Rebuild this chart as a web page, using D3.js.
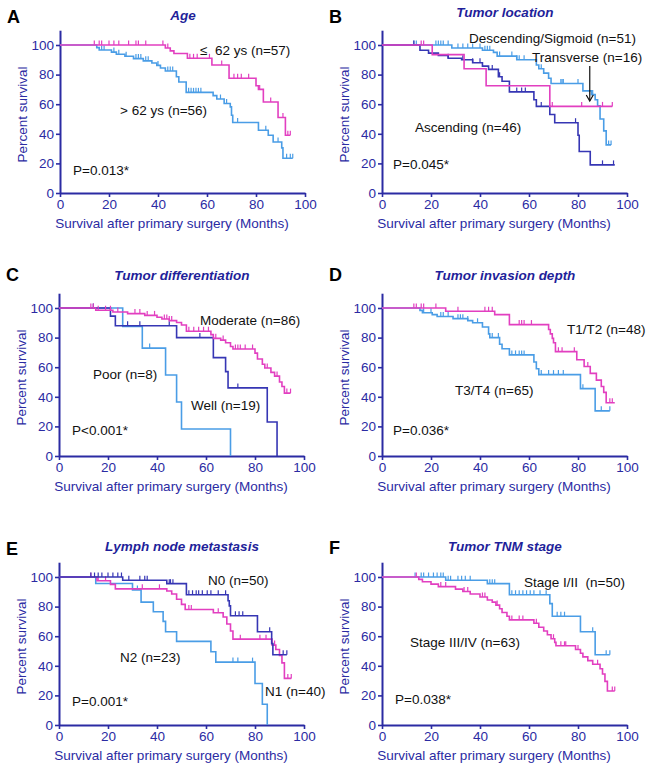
<!DOCTYPE html>
<html><head><meta charset="utf-8">
<script src="https://cdn.jsdelivr.net/npm/d3@7"></script>
<style>body{margin:0;background:#fff}svg{display:block}text{font-family:"Liberation Sans",Arial,sans-serif}</style>
</head><body><svg id="c" width="650" height="772"></svg>
<script>
// ---------- shared ticks ----------
const xTicks = [0, 20, 40, 60, 80, 100];
const yTicks = [0, 20, 40, 60, 80, 100];
const xLabel = "Survival after primary surgery (Months)";
const yLabel = "Percent survival";

// ---------- Panel A: Age ----------
const ageLeSteps = [[0,100],[43,98],[45,96],[46.5,94.3],[52,91],[62,86.5],[69,77.5],[80,72.5],[81,70],[83,61.5],[89,51],[92,39]];
const ageLeEnd = 94;
const ageLeCensor = [14,16,17,20,22,24,28,31,32,35,42,44,53,54.5,56,61,66,71,72.5,74,77,81.5,86,91,93,94];
const ageGtSteps = [[0,100],[15,98.2],[16,96.6],[21,95.2],[23,93.8],[26.5,92.4],[30,90.8],[34,89.3],[37.5,87.8],[39.5,86.2],[41,84.5],[43,82.4],[47.5,78.5],[48.5,75],[51.5,68],[62.5,65.8],[64,63.5],[67,60.5],[69.5,58.2],[70,52.5],[70.5,47.6],[81,42.4],[85,39],[87,34.5],[90.5,30.5],[91,23.5]];
const ageGtEnd = 95;
const ageGtCensor = [17,18,22,24,27,31,32,33,35,36,40,44,45,46,52.5,53.5,54.5,55.5,56.5,57.5,65.5,68,72.5,84,89,92.5,94,95];

// ---------- Panel B: Tumor location ----------
const descSteps = [[0,100],[28.5,98],[41,96.5],[45.5,95],[47,92.5],[55,90],[63,86.5],[64,84],[66,81],[68,77.5],[69,74],[82,69],[85.5,66.5],[87,63],[88,59],[89,50],[90.5,42],[91.5,32.5]];
const descEnd = 93.5;
const descCensor = [13,14,22,23,24,25,27,31,33,35,37,40,42,43,44,48,53,55,56,58,65,73,73.5,74,80,86,92.5,93.5];
const transSteps = [[0,100],[20.5,93.5],[33.5,84],[42.5,72.5],[68.5,58.5]];
const transEnd = 94;
const transCensor = [16,17,69.5,81.5,90,94];
const ascSteps = [[0,100],[15.5,96.5],[19,94.5],[23,93],[27,91],[32.5,90],[37,88],[41,85.7],[43.5,83.5],[47.5,78.5],[49,75.5],[52,68.3],[62,63],[63,58.5],[68.5,53],[70.5,47.5],[80,39],[80.5,28],[85,19]];
const ascEnd = 95;
const ascCensor = [13,27,33,37,40,45,48,55,57,58.5,65,79,90,94.5];

// ---------- Panel C: Tumor differentiation ----------
const modSteps = [[0,100],[15,98.5],[22,97.3],[28,96.2],[35,95],[40,93.8],[42,92.6],[45,91.5],[48,90.2],[50,88.5],[52,84.3],[62,82],[63,79.5],[66,78.3],[68,76.5],[70,74],[71,72.3],[80,69.5],[81,65.5],[83,62],[84,59.5],[86.5,56.5],[88,54],[90,50],[91,47],[92,42.5]];
const modEnd = 94.5;
const modCensor = [13,14,16,19,21,24,31,33,36,39,43,44,45,46,53,55,57,59,61,64,67,72,73,74,76,79,85,89,93,94.5];
const wellSteps = [[0,100],[21,94.5],[23,88],[48,80],[63,66.5],[68,57],[69,46],[85,23],[89,0]];
const wellEnd = 89;
const wellCensor = [14,28,33,45,57.5,73];
const poorSteps = [[0,100],[26,87.5],[34,72.9],[43.5,54.7],[48,36.5],[50,18.2],[70,0]];
const poorEnd = 70;
const poorCensor = [37];

// ---------- Panel D: Tumor invasion depth ----------
const t12Steps = [[0,100],[26,97.8],[46,95.5],[52,88.8],[68,85.5],[68.7,82.5],[69.5,79.5],[70,76.5],[70.8,70.5],[79.5,65],[82.5,60.5],[85,55.8],[87.5,51.3],[89.5,47],[90.5,43],[91.5,36]];
const t12End = 95;
const t12Censor = [13,14,16,17,22,31,42,43.5,45,56,57,58,61,72,73.5,78.5,84,93,94];
const t34Steps = [[0,100],[15.5,98.4],[16.5,96.8],[20.5,95.5],[22.5,94.3],[29,92.8],[35,91.5],[37,90],[41,87.2],[43.5,82.5],[44,80],[48,75.5],[49,72.5],[52,68.3],[62,63.5],[63,59],[64,55],[81,45.5],[87,30.5]];
const t34End = 93;
const t34Censor = [17,20,24,25,27,31,32,33,35,39,45,47.5,53,54.5,56,57,58,65,68,70,72,74,82,89.5,93];

// ---------- Panel E: Lymph node metastasis ----------
const n0Steps = [[0,100],[26,97.8],[44,95.5],[52,88],[69,84],[69.5,80.5],[70,73.8],[81,63],[86.8,55],[87.3,47.5]];
const n0End = 93;
const n0Censor = [13,14.5,16,17.5,20,22,24,25.5,28.5,33,35,36,45,45.5,46.5,53,54.5,56,57,58.5,60.5,62,65,68,72,73.5,75,86,91.5,93];
const n1Steps = [[0,100],[15.5,97.5],[21,95],[23,92],[44,90.5],[46,88.5],[48,85],[50,81.5],[51.5,78],[63,75.8],[67,73],[68.5,68.2],[70,63.5],[71,58],[87,54],[88.5,51],[90,47],[91,42],[92,31.5]];
const n1End = 94.8;
const n1Censor = [13,16,19,34,41,53,54,65,74,82,84.5,88,93.4,94.8];
const n2Steps = [[0,100],[15,95.6],[30,91.3],[33.5,83],[38.5,76.5],[42.5,70],[43.5,63],[48,56.5],[62,49.5],[64,42.5],[80,28],[83,14],[85,0]];
const n2End = 85;
const n2Censor = [32,71,73,79];

// ---------- Panel F: Tumor TNM stage ----------
const s12Steps = [[0,100],[26,97.8],[43,95.5],[52,88],[68.5,82],[69.5,73.5],[81,63],[87,47.5]];
const s12End = 93;
const s12Censor = [13.5,16,17,19,21,22.5,24,25,27,28,31,32.5,34,36,44,45,46,53,54.5,56,57.5,59,60.5,62,64.5,67,71.5,73,74.5,86,91.5,93];
const s34Steps = [[0,100],[15,98.4],[16.5,96.8],[20,95.2],[23,93.5],[30,91.8],[33,90.2],[36,88.5],[40,86.5],[43,84.5],[45,83],[46.5,81],[48,78.5],[49,76],[51,73.5],[52,71],[62,68.7],[64,66],[66,63.5],[67.5,61],[69,58.3],[70.5,55.8],[71,53.5],[79,51],[81,48.5],[82,46],[84,43.5],[86,41],[89,38],[90,34.5],[91,29.5],[92,23]];
const s34End = 95;
const s34Censor = [14,24,26,33.5,35,41,42,47,53,56,57.5,63,70,73,74.5,75,80,88,94,95];

// ---------- styling ----------
const MAG = "#e23fc0", LBLUE = "#4a9de6", DBLUE = "#3636b4", AXIS = "#2b2ba3", TITLE = "#1f1f9a";
const FS = 13.5;

const panels = [
  {letter:"A", title:"Age", x0:60, y0:193, ld:-170, td:-173.5,
   curves:[{s:ageGtSteps,e:ageGtEnd,c:ageGtCensor,col:LBLUE},{s:ageLeSteps,e:ageLeEnd,c:ageLeCensor,col:MAG}],
   labels:[["\u2264  62 ys (n=57)",140,-138],["> 62 ys (n=56)",60,-78],["P=0.013*",13,-18]]},
  {letter:"B", title:"Tumor location", x0:382, y0:193, ld:-170, td:-176,
   curves:[{s:descSteps,e:descEnd,c:descCensor,col:LBLUE},{s:ascSteps,e:ascEnd,c:ascCensor,col:DBLUE},{s:transSteps,e:transEnd,c:transCensor,col:MAG}],
   labels:[["Descending/Sigmoid (n=51)",87,-150],["Transverse (n=16)",150,-131],["Ascending (n=46)",33,-61],["P=0.045*",11,-24]],
   arrow:{t:84.8, from:-127, to:-92}},
  {letter:"C", title:"Tumor differentiation", x0:59, y0:456, ld:-175, td:-176,
   curves:[{s:poorSteps,e:poorEnd,c:poorCensor,col:LBLUE},{s:wellSteps,e:wellEnd,c:wellCensor,col:DBLUE},{s:modSteps,e:modEnd,c:modCensor,col:MAG}],
   labels:[["Moderate (n=86)",141,-131],["Poor (n=8)",34,-77],["Well (n=19)",132,-46],["P<0.001*",13,-21]]},
  {letter:"D", title:"Tumor invasion depth", x0:382, y0:456, ld:-175, td:-176,
   curves:[{s:t34Steps,e:t34End,c:t34Censor,col:LBLUE},{s:t12Steps,e:t12End,c:t12Censor,col:MAG}],
   labels:[["T1/T2 (n=48)",185,-122],["T3/T4 (n=65)",73,-61],["P=0.036*",11,-21]]},
  {letter:"E", title:"Lymph node metastasis", x0:59, y0:725, ld:-170, td:-174.5,
   curves:[{s:n2Steps,e:n2End,c:n2Censor,col:LBLUE},{s:n1Steps,e:n1End,c:n1Censor,col:MAG},{s:n0Steps,e:n0End,c:n0Censor,col:DBLUE}],
   labels:[["N0 (n=50)",149,-140],["N2 (n=23)",61,-63],["N1 (n=40)",206,-29],["P=0.001*",13,-19]]},
  {letter:"F", title:"Tumor TNM stage", x0:382, y0:725, ld:-171, td:-174.5,
   curves:[{s:s12Steps,e:s12End,c:s12Censor,col:LBLUE},{s:s34Steps,e:s34End,c:s34Censor,col:MAG}],
   labels:[["Stage I/II  (n=50)",142,-138],["Stage III/IV (n=63)",28,-78],["P=0.038*",13,-21]]}
];

const svg = d3.select("#c");
const W = 245, H100 = 148;
const x = d3.scaleLinear().domain([0,100]).range([0,W]);
const y = d3.scaleLinear().domain([0,110]).range([0,-H100*1.1]);
const line = d3.line().x(d=>x(d[0])).y(d=>y(d[1])).curve(d3.curveStepAfter);
function survAt(steps,t){let s=steps[0][1];for(const [tt,v] of steps){if(tt<=t)s=v;}return s;}

panels.forEach(p=>{
  const g = svg.append("g").attr("transform",`translate(${p.x0},${p.y0})`);
  // axes
  const ax = g.append("g").call(d3.axisBottom(x).tickValues(xTicks).tickSize(4).tickSizeOuter(0).tickPadding(2));
  const ay = g.append("g").call(d3.axisLeft(y).tickValues(yTicks).tickSize(4).tickSizeOuter(0).tickPadding(2));
  [ax,ay].forEach(a=>{
    a.select(".domain").attr("stroke",AXIS).attr("stroke-width",2);
    a.selectAll(".tick line").attr("stroke",AXIS).attr("stroke-width",1.6);
    a.selectAll(".tick text").attr("fill",AXIS).style("font-size",FS+"px").style("font-family",'"Liberation Sans",Arial,sans-serif');
  });
  // curves
  p.curves.forEach(c=>{
    const pts = c.s.concat([[c.e, c.s[c.s.length-1][1]]]);
    g.append("path").attr("d",line(pts)).attr("fill","none").attr("stroke",c.col).attr("stroke-width",1.6);
    g.selectAll(null).data(c.c).enter().append("line")
      .attr("x1",d=>x(d)).attr("x2",d=>x(d))
      .attr("y1",d=>y(survAt(c.s,d))).attr("y2",d=>y(survAt(c.s,d))-4.5)
      .attr("stroke",c.col).attr("stroke-width",1.2);
  });
  // axis titles
  g.append("text").attr("x",112).attr("y",35).attr("text-anchor","middle")
    .attr("fill",AXIS).style("font-size",FS+"px").text(xLabel);
  g.append("text").attr("transform",`translate(-33,${y(53)}) rotate(-90)`).attr("text-anchor","middle")
    .attr("fill",AXIS).style("font-size",FS+"px").text(yLabel);
  // title & letter
  g.append("text").attr("x",123).attr("y",p.td).attr("text-anchor","middle")
    .attr("fill",TITLE).style("font-size",FS+"px").style("font-weight","bold").style("font-style","italic").text(p.title);
  g.append("text").attr("x",-53).attr("y",p.ld).attr("fill","#000")
    .style("font-size","18px").style("font-weight","bold").text(p.letter);
  // labels
  p.labels.forEach(l=>{
    g.append("text").attr("x",l[1]).attr("y",l[2]).attr("fill","#111").style("font-size",FS+"px")
      .style("white-space","pre").attr("xml:space","preserve").text(l[0]);
  });
  if(p.arrow){
    const ax0 = x(p.arrow.t);
    g.append("line").attr("x1",ax0).attr("x2",ax0).attr("y1",p.arrow.from).attr("y2",p.arrow.to)
      .attr("stroke","#111").attr("stroke-width",1.2);
    g.append("path").attr("d",`M${ax0-3.5},${p.arrow.to-6}L${ax0},${p.arrow.to}L${ax0+3.5},${p.arrow.to-6}`)
      .attr("fill","none").attr("stroke","#111").attr("stroke-width",1.2);
  }
});
</script></body></html>
